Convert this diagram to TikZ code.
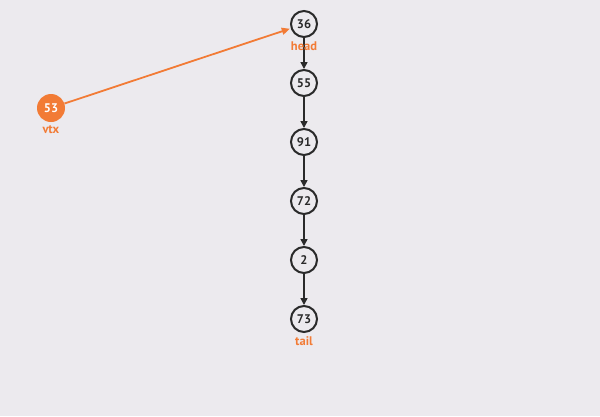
\documentclass[tikz,border=0pt]{standalone}
\usepackage{fontspec}
\setmainfont{PT Sans}
\usetikzlibrary{arrows.meta}
\definecolor{bgc}{HTML}{ECEAEE}
\definecolor{orng}{HTML}{F27B35}
\definecolor{dk}{HTML}{2A2A2A}
\begin{document}
\begin{tikzpicture}[x=1pt,y=-1pt,
  vnode/.style={circle,draw=dk,line width=2pt,fill=bgc,minimum size=26pt,inner sep=0pt,font=\bfseries\fontsize{12.5}{12.5}\selectfont,text=dk},
  onode/.style={circle,fill=orng,minimum size=28pt,inner sep=0pt,font=\bfseries\fontsize{12.5}{12.5}\selectfont,text=white},
  lbl/.style={font=\bfseries\fontsize{12.5}{12.5}\selectfont,text=orng,inner sep=0pt},
  link/.style={draw=dk,line width=1.6pt,-{Triangle[length=7pt,width=7pt]}},
  olink/.style={draw=orng,line width=1.8pt,-{Triangle[length=8pt,width=7pt]},shorten >=1pt}]
\fill[bgc] (0,0) rectangle (600,416);
\useasboundingbox (0,0) rectangle (600,416);
\node[vnode] (n36) at (304,24) {36};
\node[vnode] (n55) at (304,83) {55};
\node[vnode] (n91) at (304,142) {91};
\node[vnode] (n72) at (304,201) {72};
\node[vnode] (n2) at (304,260) {2};
\node[vnode] (n73) at (304,319) {73};
\node[onode] (v53) at (51,108) {53};
\draw[link] (n36) -- (n55);
\draw[link] (n55) -- (n91);
\draw[link] (n91) -- (n72);
\draw[link] (n72) -- (n2);
\draw[link] (n2) -- (n73);
\draw[olink] (v53) -- (n36);
\node[lbl] (lhead) at (304,46) {head};
\node[lbl] (ltail) at (304,341) {tail};
\node[lbl] (lvtx) at (51,130) {vtx};
\end{tikzpicture}
\end{document}
